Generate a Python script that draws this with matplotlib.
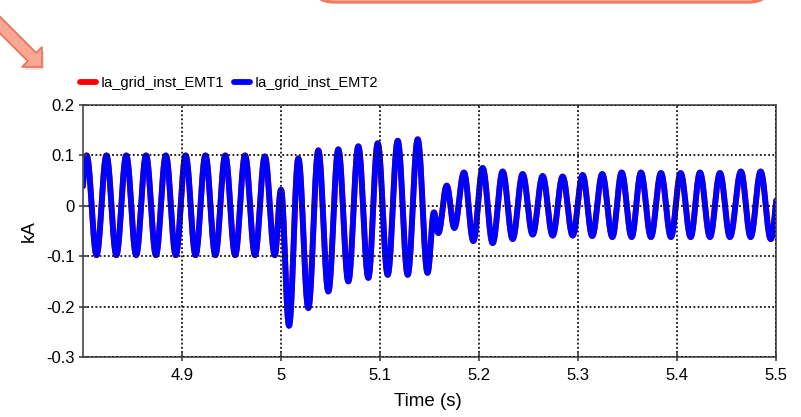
import numpy as np
import matplotlib
matplotlib.use('Agg')
import matplotlib.pyplot as plt
from matplotlib.patches import Polygon, FancyBboxPatch
from matplotlib.transforms import IdentityTransform

plt.rcParams['font.family'] = ['Liberation Sans', 'DejaVu Sans']

# extrema of the current waveform (time s, kA)
t_pre = [4.7937, 4.8037, 4.8137, 4.8237, 4.8337, 4.8437, 4.8537, 4.8637, 4.8737, 4.8837,
         4.8937, 4.9037, 4.9137, 4.9237, 4.9337, 4.9437, 4.9537, 4.9637, 4.9737, 4.9837, 4.9937]
v_pre = [-0.098, 0.100, -0.098, 0.100, -0.098, 0.100, -0.098, 0.100, -0.098, 0.100,
         -0.098, 0.100, -0.098, 0.100, -0.098, 0.100, -0.098, 0.100, -0.098, 0.098, -0.098]

t_fault = [5.0000, 5.0081, 5.0175, 5.0276, 5.0377, 5.0478, 5.0579, 5.0680, 5.0781,
           5.0882, 5.0977, 5.1078, 5.1179, 5.1280, 5.1381, 5.1480]
v_fault = [0.032, -0.238, 0.094, -0.203, 0.110, -0.170, 0.112, -0.150, 0.118,
           -0.143, 0.124, -0.137, 0.129, -0.137, 0.132, -0.133]

t_post = [5.1545, 5.1589, 5.1674, 5.1751, 5.1848, 5.1943, 5.2037, 5.2138, 5.2239, 5.2340,
          5.2441, 5.2542, 5.2643, 5.2744, 5.2845, 5.2946, 5.3047, 5.3144, 5.3245, 5.3347,
          5.3441, 5.3542, 5.3636, 5.3737, 5.3838, 5.3939, 5.4037, 5.4138, 5.4232, 5.4333,
          5.4434, 5.4535, 5.4646, 5.4744, 5.4845, 5.4947, 5.5047]
v_post = [-0.013, -0.054, 0.040, -0.044, 0.066, -0.070, 0.075, -0.074, 0.068, -0.066,
          0.063, -0.057, 0.059, -0.059, 0.058, -0.059, 0.061, -0.060, 0.063, -0.062,
          0.066, -0.062, 0.066, -0.062, 0.065, -0.062, 0.065, -0.062, 0.066, -0.062,
          0.065, -0.062, 0.068, -0.062, 0.068, -0.066, 0.066]

series_names = ['Ia_grid_inst_EMT1', 'Ia_grid_inst_EMT2']
series_colors = ['#ff0000', '#0000ff']
xticks = [4.9, 5.0, 5.1, 5.2, 5.3, 5.4, 5.5]
xticklabels = ['4.9', '5', '5.1', '5.2', '5.3', '5.4', '5.5']
yticks = [-0.3, -0.2, -0.1, 0.0, 0.1, 0.2]
yticklabels = ['-0.3', '-0.2', '-0.1', '0', '0.1', '0.2']


def wave(tk, vk, n=40):
    # smooth half-cosine between successive extrema
    ts, vs = [], []
    for i in range(len(tk) - 1):
        s = np.linspace(0, 1, n, endpoint=False)
        ts.append(tk[i] + (tk[i+1] - tk[i]) * s)
        vs.append(vk[i] + (vk[i+1] - vk[i]) * (1 - np.cos(np.pi * s)) / 2)
    ts.append([tk[-1]])
    vs.append([vk[-1]])
    return np.concatenate(ts), np.concatenate(vs)


t_all = t_pre + t_fault + t_post
v_all = v_pre + v_fault + v_post
t, v = wave(t_all, v_all)

W, H = 801, 417
fig = plt.figure(figsize=(W/100, H/100), dpi=100)
ax = fig.add_axes([83/W, 1-357/H, (776-83)/W, (357-105)/H])

for name, c in zip(series_names, series_colors):
    ax.plot(t, v, color=c, lw=4.2, label=name, solid_capstyle='round')

ax.set_xlim(4.8, 5.5)
ax.set_ylim(-0.3, 0.2)
ax.set_xticks(xticks)
ax.set_xticklabels(xticklabels)
ax.set_yticks(yticks)
ax.set_yticklabels(yticklabels)
ax.tick_params(direction='inout', length=6, width=1.2, color='#444444',
               labelsize=12, labelcolor='black')
ax.tick_params(axis='y', pad=3.0)
ax.tick_params(axis='x', pad=5.0)
ax.grid(True, color='#111111', lw=1.3, linestyle=(0, (1.0, 1.3)))
ax.set_axisbelow(False)
for sp in ax.spines.values():
    sp.set_color('#555555')
    sp.set_linewidth(1.3)

ax.set_xlabel('Time (s)', fontsize=13.5)
ax.xaxis.set_label_coords(0.497, -0.143)
ax.set_ylabel('kA', fontsize=13.5)
ax.yaxis.set_label_coords(-0.066, 0.5)

fig.legend(loc='lower left', bbox_to_anchor=(80/W, 1-90/H), ncol=2, frameon=False,
           fontsize=10.5, handlelength=1.1, handletextpad=0.3, columnspacing=0.7,
           borderaxespad=0, borderpad=0)

# decoration: callout box edge and arrow (pixel coords, origin bottom-left)
box = FancyBboxPatch((312, H-2), 459, 60, boxstyle='round,pad=0,rounding_size=22',
                     transform=IdentityTransform(), facecolor='white',
                     edgecolor='#f07d63', lw=2.4, clip_on=False)
fig.patches.append(box)

arrow_px = [(-12, 4.6), (36.2, 52.8), (42, 47), (42, 67), (22, 67), (27.8, 61.2), (-12, 21.4)]
shadow = Polygon([(x+2, H-y-3) for x, y in arrow_px], closed=True,
                 transform=IdentityTransform(), facecolor='#999999', alpha=0.25,
                 edgecolor='none')
arrow = Polygon([(x, H-y) for x, y in arrow_px], closed=True,
                transform=IdentityTransform(), facecolor='#f8a892',
                edgecolor='#ec7058', lw=1.2)
fig.patches.append(shadow)
fig.patches.append(arrow)

fig.savefig('out.png', dpi=100)
